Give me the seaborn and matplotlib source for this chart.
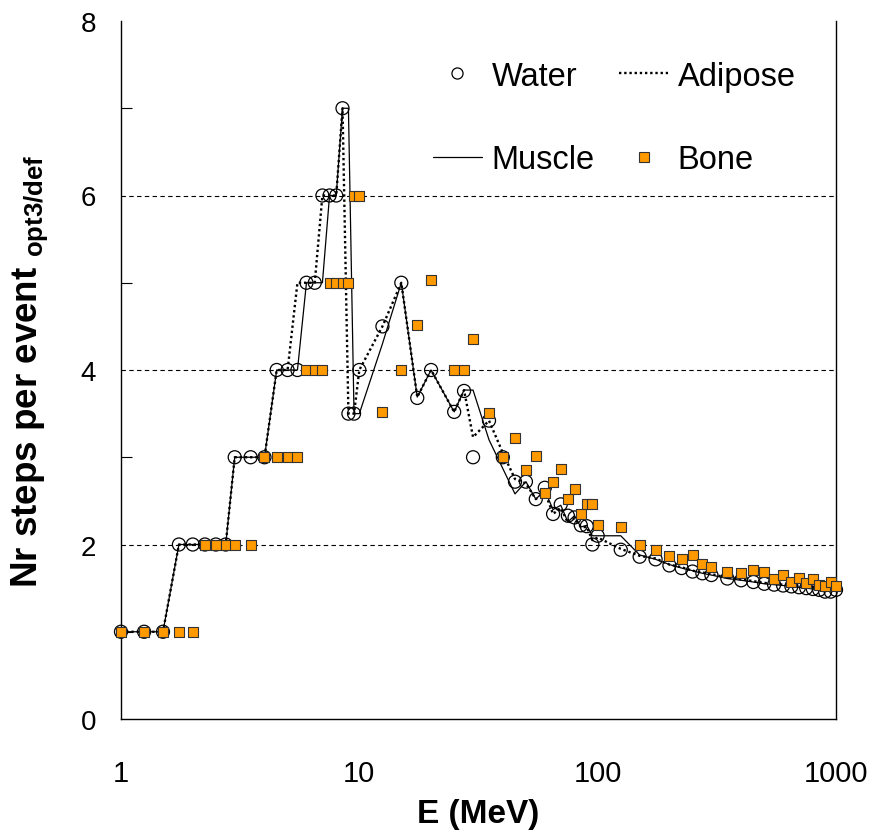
import matplotlib
matplotlib.use("Agg")
import numpy as np
import pandas as pd
import seaborn as sns
import matplotlib.pyplot as plt
from matplotlib.lines import Line2D
from matplotlib import font_manager
from matplotlib.ticker import FixedLocator, FixedFormatter, NullLocator

# ---------------- data ----------------
energy = [1, 1.25, 1.5, 1.75, 2, 2.25, 2.5, 2.75,
          3, 3.5, 4, 4.5, 5, 5.5, 6, 6.5, 7, 7.5, 8, 8.5, 9, 9.5, 10,
          12.5, 15, 17.5, 20, 25, 27.5, 30,
          35, 40, 45, 50, 55, 60, 65, 70, 75, 80, 85, 90, 95, 100,
          125, 150, 175, 200, 225, 250, 275, 300,
          350, 400, 450, 500, 550, 600, 650, 700, 750, 800, 850, 900, 950, 1000]

water = [1, 1, 1, 2, 2, 2, 2, 2,
         3, 3, 3, 4, 4, 4, 5, 5, 6, 6, 6, 7, 3.5, 3.5, 4,
         4.5, 5.0, 3.68, 4.0, 3.52, 3.76, 3.0,
         3.42, 3.0, 2.72, 2.72, 2.52, 2.65, 2.35, 2.46, 2.33, 2.31, 2.22, 2.21, 2.0, 2.1,
         1.94, 1.86, 1.83, 1.76, 1.73, 1.69, 1.67, 1.65,
         1.61, 1.59, 1.57, 1.55, 1.54, 1.53, 1.52, 1.51, 1.50, 1.49, 1.48, 1.46, 1.46, 1.48]

bone = [1, 1, 1, 1, 1, 2, 2, 2,
        2, 2, 3, 3, 3, 3, 4, 4, 4, 5, 5, 5, 5, 6, 6,
        3.52, 4.0, 4.52, 5.03, 4.0, 4.0, 4.36,
        3.51, 3.0, 3.22, 2.85, 3.01, 2.59, 2.72, 2.87, 2.52, 2.64, 2.35, 2.46, 2.46, 2.22,
        2.2, 2.0, 1.94, 1.87, 1.83, 1.88, 1.78, 1.74,
        1.69, 1.67, 1.71, 1.68, 1.60, 1.65, 1.57, 1.62, 1.56, 1.60, 1.54, 1.53, 1.57, 1.52]

muscle = [1, 1, 1, 2, 2, 2, 2, 2,
          3, 3, 3, 4, 4, 4, 5, 5, 5, 6, 6, 7, 7, 3.5, 3.5,
          4.3, 5.0, 3.69, 4.0, 3.52, 3.77, 3.77,
          3.2, 2.87, 2.58, 2.72, 2.52, 2.62, 2.4, 2.45, 2.26, 2.33, 2.2, 2.22, 2.1, 2.1,
          2.1, 1.88, 1.83, 1.77, 1.73, 1.70, 1.67, 1.65,
          1.61, 1.59, 1.57, 1.55, 1.54, 1.53, 1.52, 1.51, 1.50, 1.49, 1.48, 1.47, 1.47, 1.49]

adipose = [1, 1, 1, 2, 2, 2, 2, 2,
           3, 3, 3, 4, 4, 5, 5, 5, 6, 6, 6, 7, 3.5, 3.5, 4,
           4.5, 5.0, 3.69, 4.0, 3.52, 3.77, 3.23,
           3.42, 3.05, 2.75, 2.7, 2.52, 2.6, 2.35, 2.42, 2.25, 2.3, 2.2, 2.2, 2.05, 2.08,
           1.95, 1.87, 1.84, 1.77, 1.74, 1.70, 1.68, 1.66,
           1.62, 1.60, 1.58, 1.56, 1.55, 1.54, 1.53, 1.52, 1.51, 1.50, 1.49, 1.48, 1.48, 1.50]

xtick_values = [1, 10, 100, 1000]
xtick_labels = ["1", "10", "100", "1000"]
ytick_values = [0, 2, 4, 6, 8]
ytick_minor = [1, 3, 5, 7]

# ---------------- style ----------------
sns.set_theme(style="white")
avail = {f.name for f in font_manager.fontManager.ttflist}
base = "Liberation Sans" if "Liberation Sans" in avail else "DejaVu Sans"
narrow = "Liberation Sans Narrow" if "Liberation Sans Narrow" in avail else base
plt.rcParams["font.family"] = [base, "DejaVu Sans"]
plt.rcParams["text.color"] = "black"
plt.rcParams["axes.labelcolor"] = "black"
plt.rcParams["mathtext.fontset"] = "custom"
plt.rcParams["mathtext.rm"] = base
plt.rcParams["mathtext.bf"] = base + ":bold"

fig = plt.figure(figsize=(8.73, 8.37), dpi=100)
fig.patch.set_facecolor("white")
ax = fig.add_axes([121 / 873, 117 / 837, 715 / 873, 698 / 837])
ax.set_facecolor("white")

df = pd.DataFrame({"E": energy, "Water": water, "Bone": bone,
                   "Muscle": muscle, "Adipose": adipose})

sns.lineplot(data=df, x="E", y="Muscle", ax=ax, color="black", lw=0.9,
             estimator=None, sort=False, zorder=2)
sns.lineplot(data=df, x="E", y="Adipose", ax=ax, color="black", lw=1.7,
             linestyle=(0, (1, 1.2)), estimator=None, sort=False, zorder=2)
sns.scatterplot(data=df, x="E", y="Water", ax=ax, marker="o", s=88,
                facecolors="none", edgecolor="black", linewidth=0.9,
                zorder=3, clip_on=False)
sns.scatterplot(data=df, x="E", y="Bone", ax=ax, marker="s", s=52,
                color="#FF9900", edgecolor="#333333", linewidth=0.8,
                zorder=4, clip_on=False)

ax.set_xscale("log")
ax.set_xlim(1, 1000)
ax.set_ylim(0, 8)

ax.xaxis.set_major_locator(FixedLocator(xtick_values))
ax.xaxis.set_major_formatter(FixedFormatter(xtick_labels))
ax.xaxis.set_minor_locator(NullLocator())
ax.yaxis.set_major_locator(FixedLocator(ytick_values))
ax.yaxis.set_minor_locator(FixedLocator(ytick_minor))

ax.tick_params(axis="x", which="major", direction="in", length=10, width=0.8,
               color="black", pad=29, labelsize=21, labelcolor="black",
               labelfontfamily=narrow)
ax.tick_params(axis="y", which="major", direction="in", length=0, pad=18,
               labelsize=20, labelcolor="black")
ax.tick_params(axis="y", which="minor", direction="in", length=8, width=0.8,
               color="black", left=True)

ax.yaxis.grid(True, which="major", linestyle=(0, (4, 3)), color="black", lw=0.8)
ax.xaxis.grid(False)
for gl, v in zip(ax.get_ygridlines(), ytick_values):
    if v in (0, 8):
        gl.set_visible(False)

for side in ("left", "bottom", "right"):
    ax.spines[side].set_visible(True)
    ax.spines[side].set_color("black")
    ax.spines[side].set_linewidth(1.0)
ax.spines["top"].set_visible(False)

ax.set_xlabel("E (MeV)", fontsize=24, fontweight="bold", family=narrow,
              color="black", labelpad=8)
ax.set_ylabel(r"Nr steps per event $_{\mathbf{opt3/def}}$", fontsize=26.5,
              fontweight="bold", color="black", labelpad=22)

handles = [
    Line2D([], [], marker="o", ls="none", mfc="none", mec="black", ms=8, mew=0.9),
    Line2D([], [], color="black", lw=0.9),
    Line2D([], [], color="black", lw=1.7, ls=(0, (1, 1.2))),
    Line2D([], [], marker="s", ls="none", mfc="#FF9900", mec="#333333", ms=6.5, mew=0.8),
]
labels = ["Water", "Muscle", "Adipose", "Bone"]
ax.legend(handles, labels, ncol=2, loc="upper left", bbox_to_anchor=(0.436, 0.943),
          frameon=False, fontsize=23.5, handlelength=1.5, handletextpad=0.3,
          columnspacing=0.75, labelspacing=1.6, borderpad=0, borderaxespad=0,
          labelcolor="black")

fig.savefig("out.png", dpi=100, facecolor="white")
